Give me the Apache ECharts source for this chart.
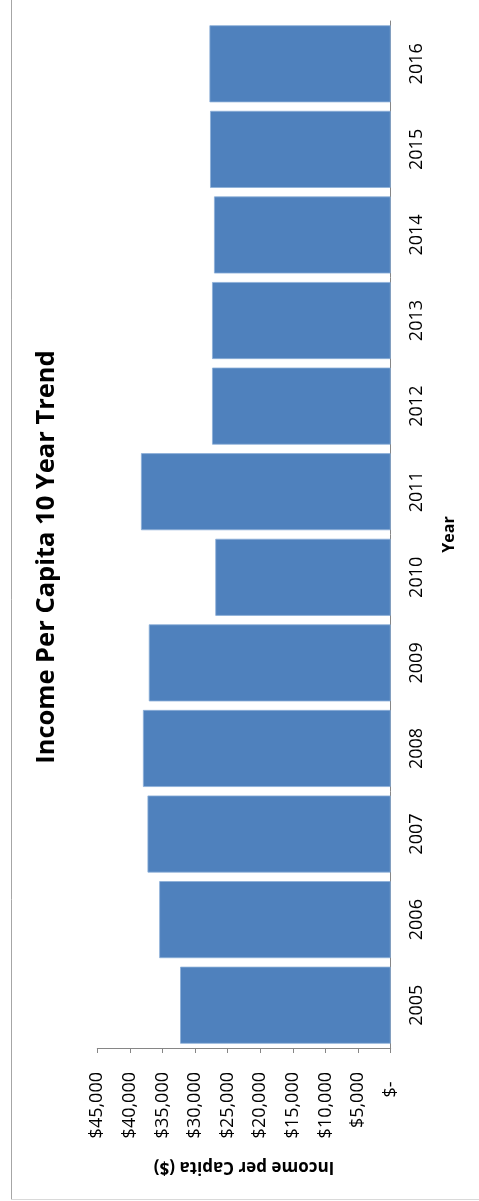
<!DOCTYPE html>
<html>
<head>
<meta charset="utf-8">
<title>Income Per Capita 10 Year Trend</title>
<script src="https://cdn.jsdelivr.net/npm/echarts@6/dist/echarts.min.js"></script>
<style>
  html, body { margin: 0; padding: 0; background: #ffffff; }
  #chart { width: 479px; height: 1201px; }
</style>
</head>
<body>
<div id="chart"></div>
<script>
// Years shown along the category axis (bottom to top)
const years = ['2005', '2006', '2007', '2008', '2009', '2010', '2011', '2012', '2013', '2014', '2015', '2016'];
// Income per capita, US dollars
const income = [32300, 35500, 37300, 38000, 37100, 26900, 38300, 27400, 27400, 27100, 27700, 27800];
// Value axis range and step
const valueMin = 0;
const valueMax = 45000;
const valueStep = 5000;

const chartTitle = 'Income Per Capita 10 Year Trend';
const valueAxisName = 'Income per Capita ($)';
const categoryAxisName = 'Year';

const FONT = '"Open Sans", "Liberation Sans", sans-serif';

function money(v) {
  if (v === 0) return '$-  ';
  return '$' + v.toLocaleString('en-US');
}

const chart = echarts.init(document.getElementById('chart'), null, { renderer: 'canvas' });

chart.setOption({
  animation: false,
  backgroundColor: '#ffffff',
  textStyle: { fontFamily: FONT },
  grid: { left: 97.3, right: 88.3, top: 21, bottom: 153, containLabel: false },
  xAxis: {
    type: 'value',
    inverse: true,
    position: 'bottom',
    min: valueMin,
    max: valueMax,
    interval: valueStep,
    axisLine: { show: true, lineStyle: { color: '#868686', width: 1 } },
    axisTick: { show: true, length: 5, lineStyle: { color: '#868686' } },
    splitLine: { show: false },
    axisLabel: {
      rotate: 90,
      margin: 24,
      color: '#000000',
      fontSize: 18,
      fontFamily: FONT,
      formatter: money
    },
    name: valueAxisName,
    nameLocation: 'middle',
    nameGap: 110,
    nameRotate: 180,
    nameTextStyle: { color: '#000000', fontSize: 17, fontWeight: 'bold', fontFamily: FONT }
  },
  yAxis: {
    type: 'category',
    position: 'right',
    data: years,
    axisLine: { show: true, lineStyle: { color: '#868686', width: 1 } },
    axisTick: { show: false },
    splitLine: { show: false },
    axisLabel: {
      rotate: 90,
      margin: 17,
      color: '#000000',
      fontSize: 18,
      fontFamily: FONT
    },
    name: categoryAxisName,
    nameLocation: 'middle',
    nameGap: 51,
    nameRotate: 90,
    nameTextStyle: { color: '#000000', fontSize: 16, fontWeight: 'bold', fontFamily: FONT }
  },
  series: [{
    type: 'bar',
    data: income,
    barCategoryGap: '10%',
    itemStyle: { color: '#4F81BD', borderColor: '#8caed8', borderWidth: 0.8 }
  }],
  graphic: [
    {
      type: 'text',
      x: 47,
      y: 557,
      rotation: Math.PI / 2,
      style: {
        text: chartTitle,
        fill: '#000000',
        font: 'bold 25.5px ' + FONT,
        align: 'center',
        verticalAlign: 'middle'
      }
    },
    {
      type: 'line',
      shape: { x1: 11.5, y1: 0, x2: 11.5, y2: 1199.5 },
      style: { stroke: '#a6a6a6', lineWidth: 1 }
    },
    {
      type: 'line',
      shape: { x1: 11.5, y1: 1199.5, x2: 479, y2: 1199.5 },
      style: { stroke: '#d9d9d9', lineWidth: 1 }
    }
  ]
});
</script>
</body>
</html>
